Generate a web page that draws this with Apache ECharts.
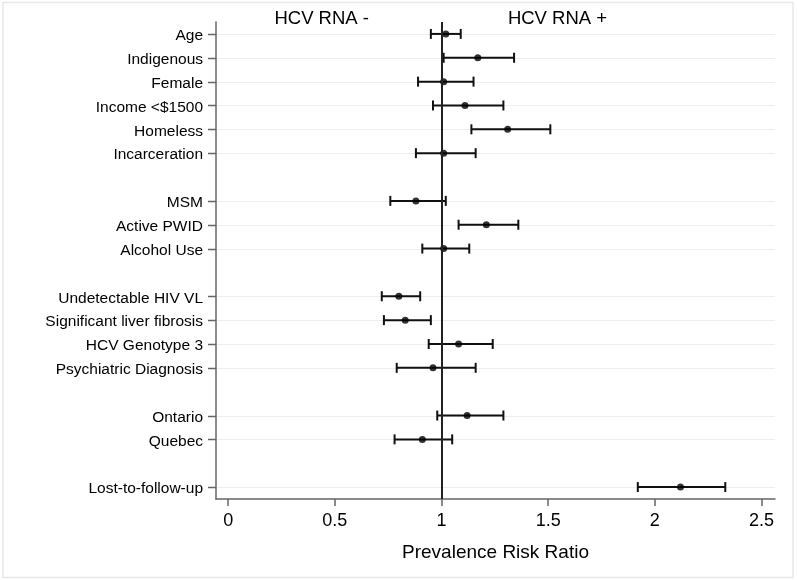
<!DOCTYPE html>
<html>
<head>
<meta charset="utf-8">
<script src="https://cdn.jsdelivr.net/npm/echarts@6/dist/echarts.min.js"></script>
<style>
html,body{margin:0;padding:0;background:#fff;}
#chart{width:797px;height:580px;}
</style>
</head>
<body>
<div id="chart"></div>
<script>
const categories = ['Age','Indigenous','Female','Income <$1500','Homeless','Incarceration','',
  'MSM','Active PWID','Alcohol Use','',
  'Undetectable HIV VL','Significant liver fibrosis','HCV Genotype 3','Psychiatric Diagnosis','',
  'Ontario','Quebec','',
  'Lost-to-follow-up'];
const ratio = [1.02,1.17,1.01,1.11,1.31,1.01,null,0.88,1.21,1.01,null,0.80,0.83,1.08,0.96,null,1.12,0.91,null,2.12];
const lower = [0.95,1.01,0.89,0.96,1.14,0.88,null,0.76,1.08,0.91,null,0.72,0.73,0.94,0.79,null,0.98,0.78,null,1.92];
const upper = [1.09,1.34,1.15,1.29,1.51,1.16,null,1.02,1.36,1.13,null,0.90,0.95,1.24,1.16,null,1.29,1.05,null,2.33];
const xTicks = [0,0.5,1,1.5,2,2.5];
const refValue = 1;
const leftHeader = 'HCV RNA -';
const rightHeader = 'HCV RNA +';
const xTitle = 'Prevalence Risk Ratio';

const FONT = "'Liberation Sans', Arial, Helvetica, sans-serif";
const AXIS_COLOR = '#666666';

const rowIdx = categories.map((c,i)=>c ? i : null).filter(v=>v!==null);
const barData = [];
const dotData = [];
categories.forEach((c,i)=>{
  if (ratio[i] != null) {
    barData.push([i, lower[i], upper[i]]);
    dotData.push([ratio[i], i]);
  }
});

const chart = echarts.init(document.getElementById('chart'), null, {renderer:'canvas'});
chart.setOption({
  animation:false,
  backgroundColor:'#ffffff',
  textStyle:{fontFamily:FONT},
  grid:{left:216, right:22, top:22, bottom:81},
  graphic:[
    {type:'rect', shape:{x:3, y:2.5, width:790, height:575}, style:{fill:'none', stroke:'#e8e8e8', lineWidth:1.5}, z:-1},
    {type:'text', x:321.7, y:18.5, style:{text:leftHeader, font:"18.5px "+FONT, fill:'#000', textAlign:'center', textVerticalAlign:'middle'}},
    {type:'text', x:557.5, y:18.5, style:{text:rightHeader, font:"18.5px "+FONT, fill:'#000', textAlign:'center', textVerticalAlign:'middle'}}
  ],
  xAxis:{
    type:'value', min:-0.057, max:2.563,
    axisLine:{show:true, onZero:false, lineStyle:{color:AXIS_COLOR, width:1.5}},
    axisTick:{show:true, length:7, customValues:xTicks, lineStyle:{color:AXIS_COLOR, width:1.5}},
    axisLabel:{customValues:xTicks, color:'#000', fontSize:18, margin:13, fontFamily:FONT,
      formatter:v=>String(v)},
    splitLine:{show:false},
    name:xTitle, nameLocation:'middle', nameGap:44,
    nameTextStyle:{color:'#000', fontSize:19, fontFamily:FONT}
  },
  yAxis:{
    type:'category', data:categories, inverse:true,
    axisLine:{show:true, onZero:false, lineStyle:{color:AXIS_COLOR, width:1.5}},
    axisTick:{show:false},
    axisLabel:{interval:0, color:'#000', fontSize:15.5, margin:13, fontFamily:FONT,
      formatter:v=>v ? '{a|' + v + '}' : '',
      rich:{a:{color:'#000', fontSize:15.5, fontFamily:FONT, padding:[4,0,0,0]}}},
    splitLine:{show:false}
  },
  series:[
    {
      type:'custom', z:1, silent:true, clip:false,
      data:rowIdx.map(i=>[0,i]),
      encode:{x:0, y:1},
      renderItem:(params, api)=>{
        const y = Math.round(api.coord([0, api.value(1)])[1]) + 0.5;
        const cs = params.coordSys;
        return {type:'group', children:[
          {type:'line', shape:{x1:cs.x+1, y1:y, x2:cs.x+cs.width, y2:y},
            style:{stroke:'#eeeeee', lineWidth:1.2}},
          {type:'line', shape:{x1:cs.x-8, y1:y, x2:cs.x, y2:y},
            style:{stroke:AXIS_COLOR, lineWidth:1.5}}
        ]};
      }
    },
    {
      type:'custom', z:3, silent:true,
      data:barData,
      encode:{y:0, x:[1,2]},
      renderItem:(params, api)=>{
        const i = api.value(0);
        const p1 = api.coord([api.value(1), i]);
        const p2 = api.coord([api.value(2), i]);
        const h = 5;
        const st = {stroke:'#111', lineWidth:2};
        return {type:'group', children:[
          {type:'line', shape:{x1:p1[0], y1:p1[1], x2:p2[0], y2:p2[1]}, style:st},
          {type:'line', shape:{x1:p1[0], y1:p1[1]-h, x2:p1[0], y2:p1[1]+h}, style:st},
          {type:'line', shape:{x1:p2[0], y1:p2[1]-h, x2:p2[0], y2:p2[1]+h}, style:st}
        ]};
      },
      markLine:{
        silent:true, symbol:['none','none'], label:{show:false},
        lineStyle:{color:'#222', width:2, type:'solid'},
        data:[{xAxis:refValue}]
      }
    },
    {
      type:'scatter', z:4, silent:true,
      data:dotData, symbol:'circle', symbolSize:7,
      itemStyle:{color:'#000'}
    }
  ]
});
</script>
</body>
</html>
